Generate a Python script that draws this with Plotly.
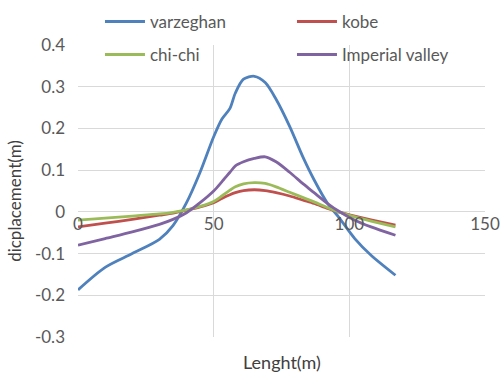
import plotly.graph_objects as go

length_m = [0, 10, 20, 30, 35, 40, 45, 50, 53, 56, 58, 61, 65, 69, 73, 78, 83, 87, 92, 96, 102, 108, 117]
varzeghan = [-0.187, -0.133, -0.100, -0.066, -0.033, 0.022, 0.095, 0.18, 0.222, 0.248, 0.285, 0.318, 0.325,
             0.31, 0.27, 0.205, 0.13, 0.077, 0.02, -0.012, -0.064, -0.104, -0.152]
kobe = [-0.036, -0.027, -0.018, -0.008, -0.003, 0.004, 0.012, 0.022, 0.032, 0.041, 0.046, 0.051, 0.053,
        0.051, 0.046, 0.038, 0.028, 0.02, 0.008, 0.0, -0.01, -0.019, -0.032]
chichi = [-0.02, -0.015, -0.01, -0.005, -0.001, 0.005, 0.013, 0.025, 0.038, 0.052, 0.06, 0.067, 0.07,
          0.068, 0.06, 0.047, 0.034, 0.024, 0.01, 0.0, -0.012, -0.022, -0.036]
imperial = [-0.08, -0.064, -0.048, -0.03, -0.018, -0.002, 0.022, 0.05, 0.072, 0.095, 0.11, 0.12, 0.128,
            0.132, 0.12, 0.095, 0.067, 0.046, 0.02, 0.002, -0.02, -0.036, -0.056]

y_ticks = [-0.3, -0.2, -0.1, 0, 0.1, 0.2, 0.3, 0.4]
y_ticktext = ["-0.3", "-0.2", "-0.1", "0", "0.1", "0.2", "0.3", "0.4"]
x_ticks = [0, 50, 100, 150]
x_ticktext = ["0", "50", "100", "150"]

FONT = "Lato"
TXT = "#595959"
FS = 17

fig = go.Figure()
series = [
    ("varzeghan", varzeghan, "#4F81BD", "legend"),
    ("kobe", kobe, "#C0504D", "legend"),
    ("chi-chi", chichi, "#9BBB59", "legend2"),
    ("Imperial valley", imperial, "#8064A2", "legend2"),
]
for name, vals, col, lg in series:
    fig.add_trace(go.Scatter(x=length_m, y=vals, name=name, mode="lines",
                             line=dict(color=col, width=2.8, shape="spline", smoothing=0.8),
                             legend=lg))

leg_common = dict(orientation="h", x=0.054, xanchor="left", yanchor="middle",
                  entrywidth=137, entrywidthmode="pixels", bgcolor="rgba(0,0,0,0)",
                  font=dict(family=FONT, size=FS, color=TXT), itemwidth=40, tracegroupgap=0)

fig.update_layout(
    width=504, height=374,
    margin=dict(l=78, r=19, t=45, b=37, autoexpand=False),
    paper_bgcolor="white", plot_bgcolor="white",
    font=dict(family=FONT, size=FS, color=TXT),
    legend=dict(y=1.079, **leg_common),
    legend2=dict(y=0.966, **leg_common),
    xaxis=dict(range=[0, 150], tickvals=x_ticks, ticktext=x_ticktext, showgrid=True,
               gridcolor="#D9D9D9", gridwidth=1, zeroline=False, showline=False,
               anchor="free", position=3 / 7, ticks="", ticklabelstandoff=0,
               tickfont=dict(family=FONT, size=FS, color=TXT)),
    yaxis=dict(range=[-0.3, 0.4], tickvals=y_ticks, ticktext=y_ticktext, showgrid=True,
               gridcolor="#D9D9D9", gridwidth=1, zeroline=False, showline=False, ticks="",
               ticklabelstandoff=12,
               tickfont=dict(family=FONT, size=FS, color=TXT)),
    annotations=[
        dict(text="Lenght(m)", xref="paper", yref="paper", x=0.5, y=-0.086,
             xanchor="center", yanchor="middle", showarrow=False,
             font=dict(family=FONT, size=18, color="#404040")),
        dict(text="dicplacement(m)", xref="paper", yref="paper", x=-0.155, y=0.466,
             xanchor="center", yanchor="middle", showarrow=False, textangle=-90,
             font=dict(family=FONT, size=17, color="#404040")),
    ],
)

fig.write_html("out.html")
